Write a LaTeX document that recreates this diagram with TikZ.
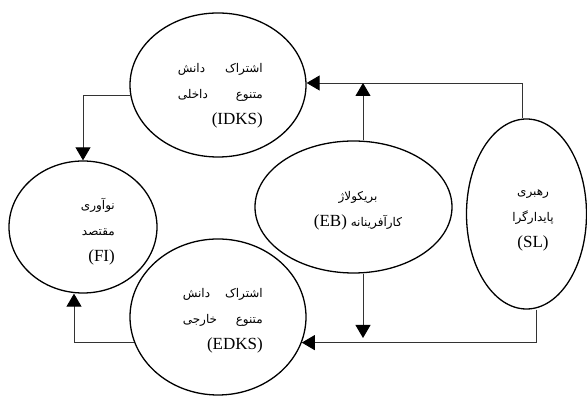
\documentclass[tikz,border=0pt]{standalone}
\usepackage{fontspec}
\setmainfont{Liberation Serif}
\newfontfamily\fa[Script=Arabic]{DejaVu Sans}
\TeXXeTstate=1
\usetikzlibrary{shapes.geometric,arrows.meta,calc}
\tikzset{
  bubble/.style={draw=black, line width=1.3pt, ellipse, inner sep=0pt},
  conn/.style={draw=black!80, line width=0.9pt},
  arr/.style={conn, -{Triangle[width=15pt,length=13pt,black]}},
  lbl/.style={inner sep=0pt, font=\fa\fontsize{12}{26}\selectfont},
}
\newcommand\fl[2]{\hbox to #1{\beginR #2\endR}}
\newcommand\la[1]{{\rmfamily\fontsize{17}{26}\selectfont #1}}
\begin{document}
\begin{tikzpicture}[x=1pt,y=1pt]
\useasboundingbox (0,0) rectangle (587,398);
\node[bubble, minimum width=176pt, minimum height=144pt] (IDKS) at (218,313) {};
\node[bubble, minimum width=148pt, minimum height=132pt] (FI) at (83,171) {};
\node[bubble, minimum width=176pt, minimum height=156pt] (EDKS) at (218,81) {};
\node[bubble, minimum width=197pt, minimum height=132pt] (EB) at (353.5,191) {};
\node[bubble, minimum width=120pt, minimum height=190pt] (SL) at (526.5,184) {};

\node[lbl, anchor=east, align=right] (tIDKS) at (263,302) {\fl{85pt}{اشتراک\hfill دانش}\\\fl{85pt}{متنوع\hfill داخلی}\\\la{(IDKS)}};
\node[lbl, anchor=east, align=right] (tFI) at (115,166) {\beginR نوآوری\endR\\\beginR مقتصد\endR\\\la{(FI)}};
\node[lbl, anchor=east, align=right] (tEDKS) at (263,77) {\fl{80pt}{اشتراک\hfill دانش}\\\fl{80pt}{متنوع\hfill خارجی}\\\la{(EDKS)}};
\node[lbl, align=center] (tEB) at (358,187.5) {\beginR بریکولاژ\endR\\\beginR کارآفرینانه \beginL\la{(EB)}\endL\endR};
\node[lbl, align=center] (tSL) at (533,178) {\beginR رهبری\endR\\\beginR پایدارگرا\endR\\\la{(SL)}};

\coordinate (t1) at (363,315);
\coordinate (b1) at (363,60);
\draw[arr] ([xshift=-4.5pt]SL.north) |- ([yshift=2pt]IDKS.east);
\draw[arr] ([xshift=9.5pt]EB.north) -- (t1);
\draw[arr] ([xshift=9.5pt]SL.south) |- (EDKS.-17.4);
\draw[arr] ([xshift=9.5pt]EB.south) -- (b1);
\draw[arr] (IDKS.187.2) -| (FI.north);
\draw[arr] (EDKS.197.4) -| ([xshift=-9pt]FI.south);
\end{tikzpicture}
\end{document}
